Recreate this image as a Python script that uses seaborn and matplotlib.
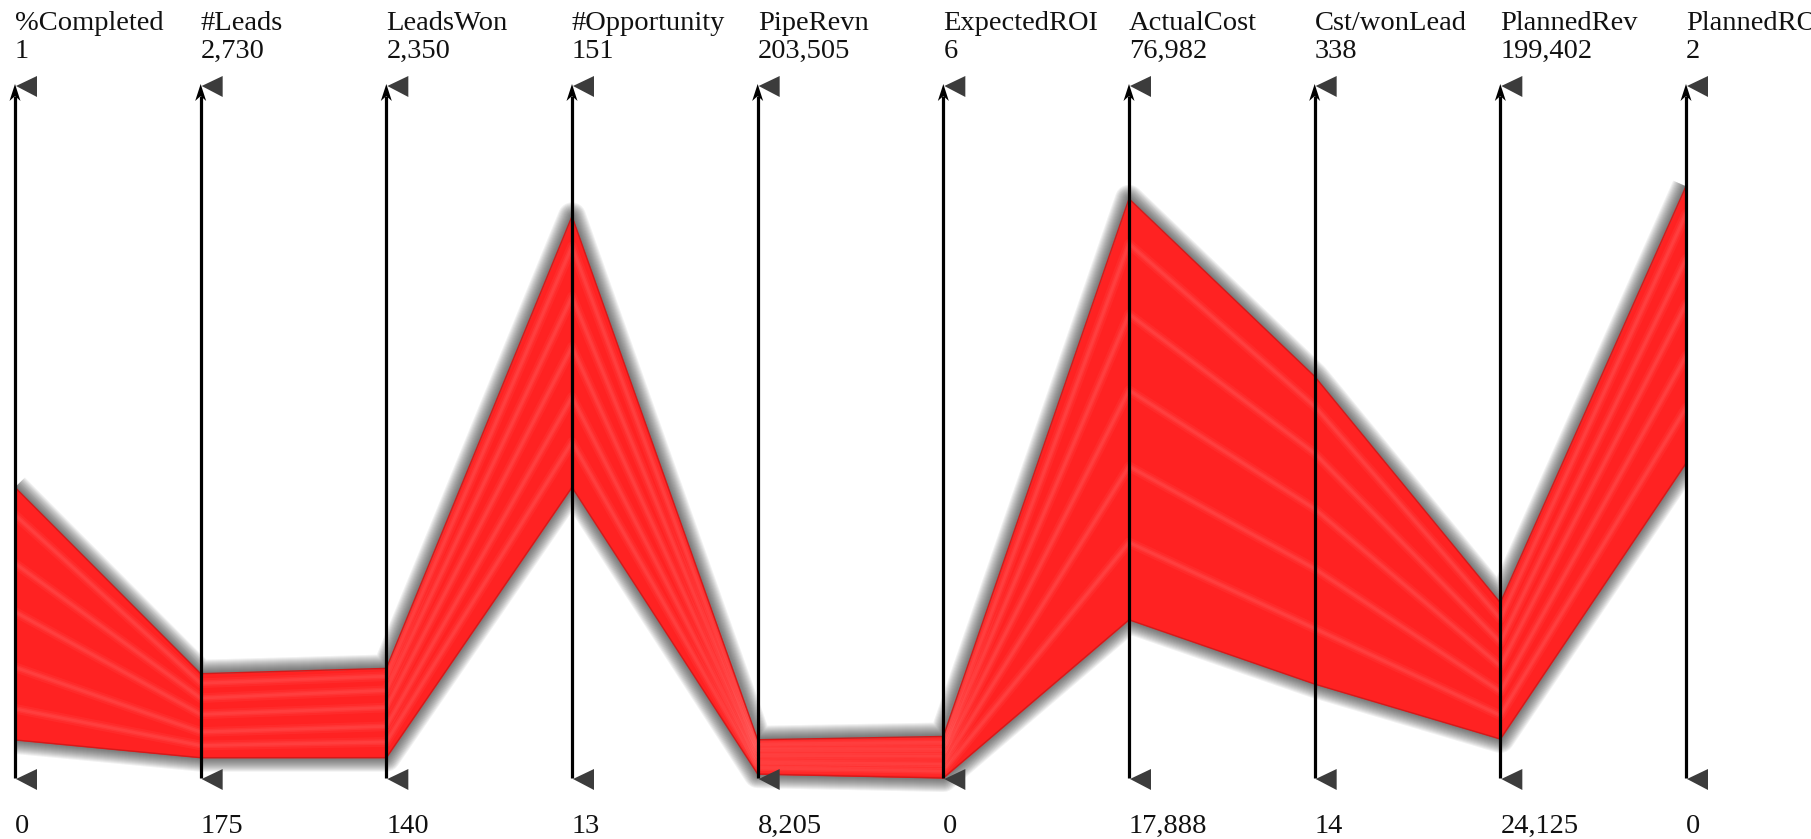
import numpy as np
import pandas as pd
import matplotlib
matplotlib.use("Agg")
import matplotlib.pyplot as plt
import seaborn as sns
from matplotlib.patches import Polygon, Rectangle

# ---- data -------------------------------------------------------------
dimensions = ["%Completed", "#Leads", "LeadsWon", "#Opportunity", "PipeRevn",
              "ExpectedROI", "ActualCost", "Cst/wonLead", "PlannedRev", "PlannedROI"]
axis_min = [0, 175, 140, 13, 8205, 0, 17888, 14, 24125, 0]
axis_max = [1, 2730, 2350, 151, 203505, 6, 76982, 338, 199402, 2]

# envelope of the campaign records on every dimension
band_upper = [0.42, 560, 490, 125, 19000, 0.36, 67350, 202, 68500, 1.71]
band_lower = [0.055, 250, 205, 71, 9300, 0.0, 31400, 58, 34000, 0.91]

# a few individual records inside the envelope
record_a = [0.38, 525, 465, 119, 17800, 0.31, 63500, 188, 64500, 1.63]
record_b = [0.31, 470, 420, 109, 16200, 0.25, 57500, 166, 58500, 1.50]
record_c = [0.24, 410, 365, 99, 14500, 0.19, 51000, 140, 52500, 1.37]
record_d = [0.16, 345, 305, 89, 12700, 0.12, 44500, 112, 46000, 1.22]
record_e = [0.10, 295, 255, 80, 11000, 0.06, 38000, 84, 40000, 1.07]

# ---- layout -------------------------------------------------------------
W, H = 1811, 839
X0, STEP = 15, (1686 - 15) / 9
Y_TOP, Y_BOT = 86, 778
SPAN = Y_BOT - Y_TOP

sns.set_theme(style="white")
plt.rcParams["font.family"] = ["Liberation Serif", "DejaVu Serif"]

fig = plt.figure(figsize=(W / 100, H / 100), dpi=100)
ax = fig.add_axes([0, 0, 1, 1])

mins = np.array(axis_min, float)
maxs = np.array(axis_max, float)


def scaled(vals):
    return (np.array(vals, float) - mins) / (maxs - mins)


def dx(px):
    return px / STEP


def fy(py):
    return (Y_BOT - py) / SPAN


xs = np.arange(len(dimensions))
up = scaled(band_upper)
lo = scaled(band_lower)

clip = Rectangle((0, -1), len(dimensions) - 1, 3, transform=ax.transData)

# soft grey shadow along both edges of the band
for w in range(2, 30, 2):
    for edge in (up, lo):
        ln, = ax.plot(xs, edge, color="#2e2e2e", alpha=0.065, lw=w * 0.72,
                      solid_capstyle="butt", solid_joinstyle="round", zorder=1)
        ln.set_clip_path(clip)

# red band
ax.fill_between(xs, lo, up, color="#FF2222", lw=0, zorder=2)

# individual records as faint streaks
recs = {"a": record_a, "b": record_b, "c": record_c, "d": record_d, "e": record_e}
rows = []
for name, vals in recs.items():
    for i, v in enumerate(scaled(vals)):
        rows.append({"record": name, "axis": i, "value": v})
streaks = pd.DataFrame(rows)
for lw, a in ((7, 0.04), (4, 0.05), (2, 0.05)):
    sns.lineplot(data=streaks, x="axis", y="value", units="record",
                 estimator=None, color="white", alpha=a, lw=lw, sort=False,
                 legend=False, ax=ax, zorder=3)

edges = pd.DataFrame(
    [{"record": "upper", "axis": i, "value": v} for i, v in enumerate(up)]
    + [{"record": "lower", "axis": i, "value": v} for i, v in enumerate(lo)])
sns.lineplot(data=edges, x="axis", y="value", units="record", estimator=None,
             color="#d41a1a", lw=1.0, sort=False, legend=False, ax=ax, zorder=3)

# axes: vertical arrows with grey markers at both ends
for i in xs:
    ax.plot([i, i], [0, fy(Y_TOP + 10)], color="black", lw=2.3,
            solid_capstyle="butt", zorder=5)
    ax.add_patch(Polygon([(i, fy(84)), (i + dx(5.5), fy(101)), (i, fy(96)),
                          (i - dx(5.5), fy(101))], closed=True,
                         color="black", lw=0, zorder=6))
    ax.add_patch(Polygon([(i + dx(1), fy(86)), (i + dx(22), fy(76)),
                          (i + dx(22), fy(97))], closed=True,
                         color="#3c3c3c", lw=0, zorder=6))
    ax.add_patch(Polygon([(i + dx(1), fy(779)), (i + dx(22), fy(769)),
                          (i + dx(22), fy(790))], closed=True,
                         color="#3c3c3c", lw=0, zorder=6))

    txt = dict(ha="left", va="baseline", fontsize=20.5, color="#111111",
               zorder=7, clip_on=False)
    ax.text(i, fy(30), dimensions[i], **txt)
    ax.text(i, fy(58), f"{axis_max[i]:,}", **txt)
    ax.text(i, fy(833), f"{axis_min[i]:,}", **txt)

ax.set_xlim(-X0 / STEP, (W - X0) / STEP)
ax.set_ylim((Y_BOT - H) / SPAN, Y_BOT / SPAN)
ax.set_axis_off()

fig.savefig("out.png", dpi=100, facecolor="white")
